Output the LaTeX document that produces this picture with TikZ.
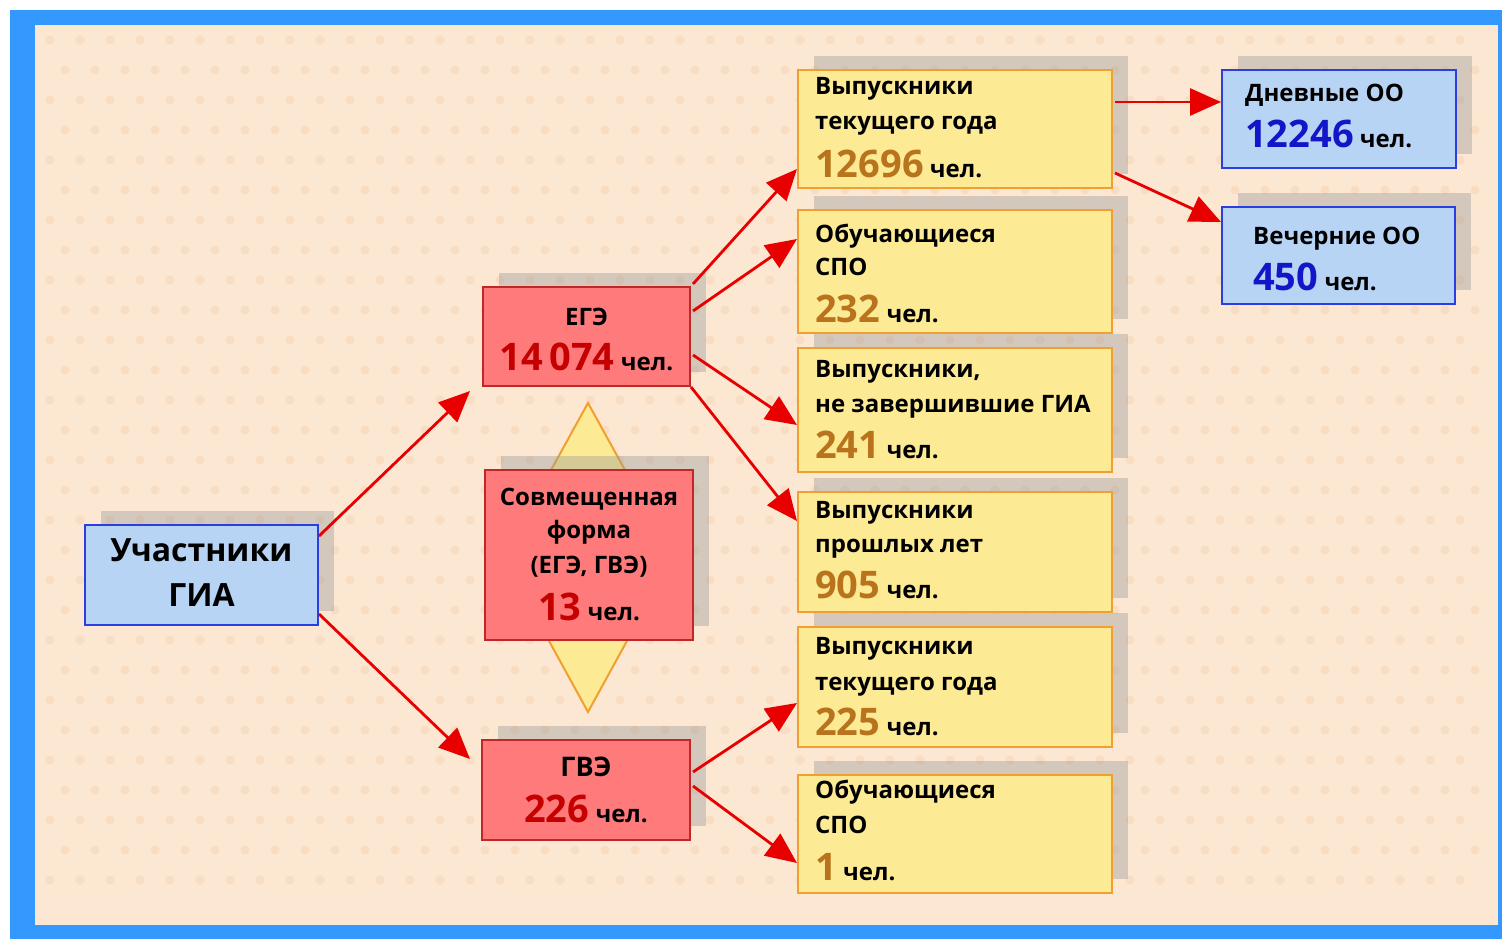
\documentclass[tikz,border=0pt]{standalone}
\usepackage{fontspec}
\setmainfont{Open Sans}
\usetikzlibrary{arrows.meta,shadows,calc}
\definecolor{frameblue}{HTML}{3399FF}
\definecolor{peach}{HTML}{FCE7D3}
\definecolor{dotc}{HTML}{F8DDC2}
\definecolor{lblue}{HTML}{B7D4F4}
\definecolor{bblue}{HTML}{2B3FE0}
\definecolor{lred}{HTML}{FF7B7B}
\definecolor{bred}{HTML}{C02828}
\definecolor{lyel}{HTML}{FDEA95}
\definecolor{byel}{HTML}{F0A030}
\definecolor{numbrown}{HTML}{B8731C}
\definecolor{numred}{HTML}{C40000}
\definecolor{numblue}{HTML}{1414C8}
\definecolor{arrred}{HTML}{E80000}
\newcommand{\nmb}[2]{{\fontsize{38}{38}\selectfont\color{#1}#2}}
\newcommand{\chel}{{\fontsize{24}{24}\selectfont\ чел.}}
\tikzset{
  box/.style={rectangle, inner sep=0pt, line width=2pt,
    drop shadow={shadow xshift=16pt, shadow yshift=14pt, fill=black!40, opacity=0.4}},
  bluebox/.style={box, fill=lblue, draw=bblue},
  redbox/.style={box, fill=lred, draw=bred},
  yelbox/.style={box, fill=lyel, draw=byel},
  arr/.style={draw=arrred, line width=2.8pt, -{Triangle[length=31pt,width=27pt]}},
  txt/.style={anchor=base west, inner sep=0pt, font=\bfseries\fontsize{24}{24}\selectfont},
  ctxt/.style={anchor=base, inner sep=0pt, font=\bfseries\fontsize{24}{24}\selectfont}
}
\begin{document}
\begin{tikzpicture}[x=1pt,y=-1pt]
\useasboundingbox (0,0) rectangle (1502,939);
% frame and background
\fill[frameblue] (10,10) rectangle (1502,939);
\fill[peach] (35,25) rectangle (1498,925);
\foreach \i in {0,...,47} {
  \foreach \j in {0,...,28} {
    \fill[dotc] ({50+\i*30+mod(\j,2)*15},{40+\j*30}) circle (4.5);
  }
}
% diamond
\coordinate (dtop) at (588,403);
\coordinate (dright) at (673,557);
\coordinate (dbot) at (588,712);
\coordinate (dleft) at (503,557);
\filldraw[fill=lyel, draw=byel, line width=2pt] (dtop) -- (dright) -- (dbot) -- (dleft) -- cycle;
% boxes
\node[bluebox, minimum width=233pt, minimum height=100pt] (gia) at (201.5,575) {};
\node[redbox, minimum width=207pt, minimum height=99pt] (ege) at (586.5,336.5) {};
\node[redbox, minimum width=208pt, minimum height=170pt] (sov) at (589,555) {};
\node[redbox, minimum width=208pt, minimum height=100pt] (gve) at (586,790) {};
\node[yelbox, minimum width=314pt, minimum height=118pt] (y1) at (955,129) {};
\node[yelbox, minimum width=314pt, minimum height=123pt] (y2) at (955,271.5) {};
\node[yelbox, minimum width=314pt, minimum height=124pt] (y3) at (955,410) {};
\node[yelbox, minimum width=314pt, minimum height=120pt] (y4) at (955,552) {};
\node[yelbox, minimum width=314pt, minimum height=120pt] (y5) at (955,687) {};
\node[yelbox, minimum width=314pt, minimum height=118pt] (y6) at (955,834) {};
\node[bluebox, minimum width=234pt, minimum height=98pt] (d1) at (1339,119) {};
\node[bluebox, minimum width=233pt, minimum height=97pt] (d2) at (1338.5,255.5) {};
% texts
\node[ctxt, font=\bfseries\fontsize{32}{32}\selectfont] (giat1) at (201.5,561) {Участники};
\node[ctxt, font=\bfseries\fontsize{32}{32}\selectfont] (giat2) at (201.5,606) {ГИА};
\node[ctxt] (eget1) at (586.5,325) {ЕГЭ};
\node[ctxt] (eget2) at (586.5,370) {\nmb{numred}{14\,074}\chel};
\node[ctxt] (sovt1) at (589,505) {Совмещенная};
\node[ctxt] (sovt2) at (589,538) {форма};
\node[ctxt] (sovt3) at (589,573) {(ЕГЭ, ГВЭ)};
\node[ctxt] (sovt4) at (589,620) {\nmb{numred}{13}\chel};
\node[ctxt, font=\bfseries\fontsize{27}{27}\selectfont] (gvet1) at (586,776) {ГВЭ};
\node[ctxt] (gvet2) at (586,822) {\nmb{numred}{226}\chel};
\node[txt] (y1a) at (815,95) {Выпускники};
\node[txt] (y1b) at (815,130) {текущего года};
\node[txt] (y1c) at (815,177) {\nmb{numbrown}{12696}\chel};
\node[txt] (y2a) at (815,242) {Обучающиеся};
\node[txt] (y2b) at (815,275) {СПО};
\node[txt] (y2c) at (815,322) {\nmb{numbrown}{232}\chel};
\node[txt] (y3a) at (815,377) {Выпускники,};
\node[txt] (y3b) at (815,412) {не завершившие ГИА};
\node[txt] (y3c) at (815,458) {\nmb{numbrown}{241}\chel};
\node[txt] (y4a) at (815,518) {Выпускники};
\node[txt] (y4b) at (815,552) {прошлых лет};
\node[txt] (y4c) at (815,598) {\nmb{numbrown}{905}\chel};
\node[txt] (y5a) at (815,654) {Выпускники};
\node[txt] (y5b) at (815,690) {текущего года};
\node[txt] (y5c) at (815,735) {\nmb{numbrown}{225}\chel};
\node[txt] (y6a) at (815,798) {Обучающиеся};
\node[txt] (y6b) at (815,833) {СПО};
\node[txt] (y6c) at (815,880) {\nmb{numbrown}{1}\chel};
\node[txt] (d1a) at (1245,102) {Дневные ОО};
\node[txt] (d1b) at (1245,148) {\nmb{numblue}{12246}\chel};
\node[txt] (d2a) at (1253,244) {Вечерние ОО};
\node[txt] (d2b) at (1253,290) {\nmb{numblue}{450}\chel};
% arrows
\draw[arr] ($(gia.north east)+(0,12)$) -- ($(ege.south west)+(-12,4)$);
\draw[arr] ($(gia.south east)+(0,-12)$) -- ($(gve.north west)+(-11,20)$);
\draw[arr] ($(ege.north east)+(2,-2)$) -- ($(y1.south west)+(0,-20)$);
\draw[arr] ($(ege.north east)+(2,25)$) -- ($(y2.north west)+(0,30)$);
\draw[arr] ($(ege.south east)+(2,-32)$) -- ($(y3.west)+(0,15)$);
\draw[arr] ($(ege.south east)+(0,0)$) -- ($(y4.north west)+(0,30)$);
\draw[arr] ($(gve.north east)+(2,33)$) -- ($(y5.south west)+(0,-45)$);
\draw[arr] ($(gve.north east)+(2,47)$) -- ($(y6.south west)+(0,-31)$);
\draw[arr] ($(y1.north east)+(2,33)$) -- ($(d1.north west)+(0,33)$);
\draw[arr] ($(y1.south east)+(2,-16)$) -- ($(d2.north west)+(0,16)$);
\end{tikzpicture}
\end{document}
